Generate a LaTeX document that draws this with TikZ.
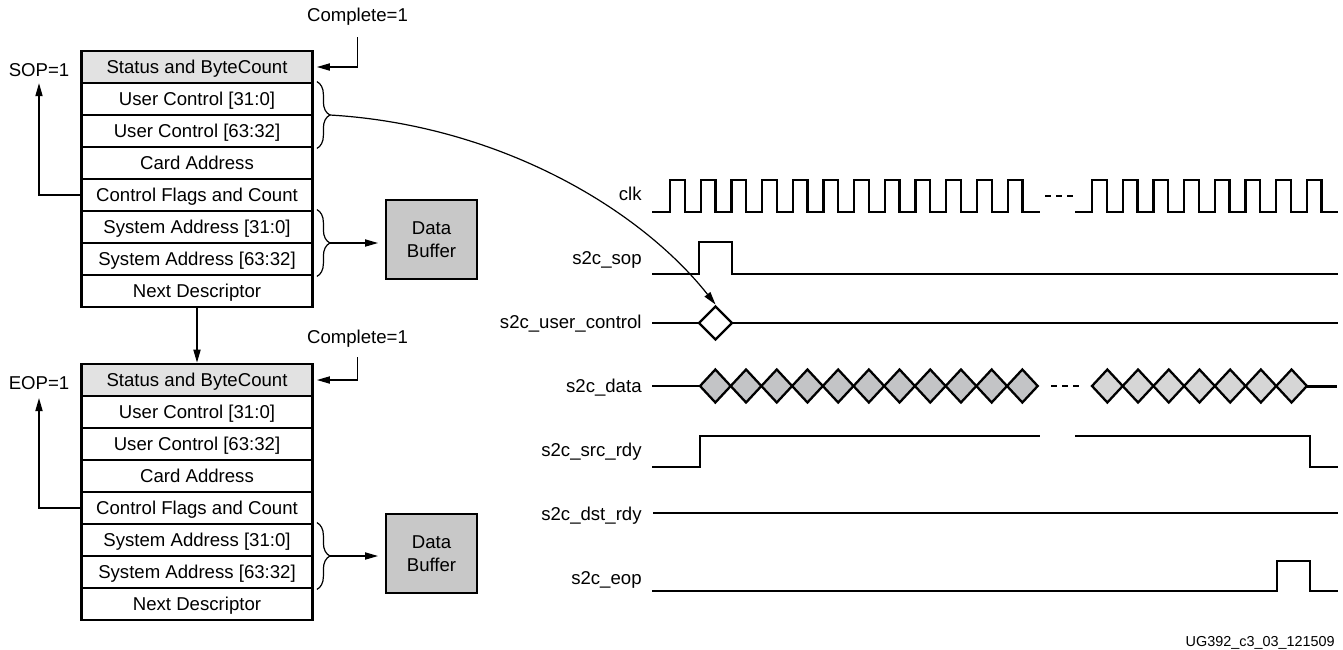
\documentclass[tikz,border=0pt]{standalone}
\usepackage{fontspec}
\setmainfont{Liberation Sans}
\usetikzlibrary{arrows.meta,decorations.pathreplacing}
\definecolor{hdrgray}{RGB}{226,226,226}
\definecolor{bufgray}{RGB}{200,200,200}
\definecolor{datdark}{RGB}{195,196,198}
\definecolor{datlight}{RGB}{214,214,214}

\begin{document}
\begin{tikzpicture}[x=0.5pt,y=-0.5pt,font=\fontsize{9.3}{11.2}\selectfont,
  >={Triangle[length=6.5pt,width=3.6pt]},
  row/.style={draw,line width=1.4pt,minimum width=115.5pt,minimum height=16pt,inner sep=0pt,text height=6.7pt,text depth=0pt},
  buffer/.style={draw,line width=1.4pt,fill=bufgray,minimum width=45.5pt,minimum height=39.5pt,align=center,inner sep=0pt},
  flag/.style={inner sep=2pt,text height=6.7pt,text depth=0pt},
  link/.style={line width=0.6pt},
  brc/.style={line width=0.6pt,decorate,decoration={brace,amplitude=6.5pt}},
  wave/.style={line width=1.15pt},
  sig/.style={anchor=base east,inner sep=0pt}]
\useasboundingbox (0,0) rectangle (1343,649);

% first descriptor (SOP)
\begin{scope}
\node[row,fill=hdrgray] (a1) at (197,67) {Status and ByteCount};
\foreach \i/\t in {2/User Control [31:0],3/User Control [63:32],4/Card Address,5/Control Flags and Count,6/System Address [31:0],7/System Address [63:32],8/Next Descriptor}
  \node[row] (a\i) at (197,{35+32*\i}) {\t};
\node[flag] (sop) at (39,69.5) {SOP=1};
\draw[link,->,shorten >=1.3pt] (a5.west) -| (sop.south);
\node[flag] (cpa) at (357.5,15) {Complete=1};
\draw[link,->,shorten <=5.6pt,shorten >=1.5pt] (cpa.south) |- (a1.east);
\draw[brc] ([xshift=1.5pt]a2.north east) -- ([xshift=1.5pt]a3.south east) coordinate[midway,xshift=6.5pt] (ucb);
\draw[brc] ([xshift=1.5pt]a6.north east) -- ([xshift=1.5pt]a7.south east) coordinate[midway,xshift=6.5pt] (sab);
\node[buffer] (bufa) at (431.5,239.5) {Data\\Buffer};
\draw[link,->,shorten >=3.3pt] (sab) -- (sab -| bufa.west);
\end{scope}

% second descriptor (EOP)
\begin{scope}[shift={(0,313)}]
\node[row,fill=hdrgray] (b1) at (197,67) {Status and ByteCount};
\foreach \i/\t in {2/User Control [31:0],3/User Control [63:32],4/Card Address,5/Control Flags and Count,6/System Address [31:0],7/System Address [63:32],8/Next Descriptor}
  \node[row] (b\i) at (197,{35+32*\i}) {\t};
\node[flag] (eop) at (39,70) {EOP=1};
\draw[link,->,shorten >=2pt] (b5.west) -| (eop.south);
\node[flag] (cpb) at (357.5,23.7) {Complete=1};
\draw[link,->,shorten <=4.8pt,shorten >=1.5pt] (cpb.south) |- (b1.east);
\draw[brc] ([xshift=1.5pt]b6.north east) -- ([xshift=1.5pt]b7.south east) coordinate[midway,xshift=6.5pt] (sbb);
\node[buffer] (bufb) at (431.5,240.5) {Data\\Buffer};
\draw[link,->,shorten >=3.3pt] (sbb) -- (sbb -| bufb.west);
\end{scope}

\draw[link,->] (a8.south) -- (b1.north);

% timing
\node[sig] (lclk) at (642,200) {clk};
\node[sig] (lsop) at (642,264) {s2c\_sop};
\node[sig] (luc) at (642,328) {s2c\_user\_control};
\node[sig] (ldat) at (642,392) {s2c\_data};
\node[sig] (lsrc) at (642,456) {s2c\_src\_rdy};
\node[sig] (ldst) at (642,520) {s2c\_dst\_rdy};
\node[sig] (leop) at (642,584) {s2c\_eop};

% clk
\draw[wave] (652,212) foreach \k in {0,...,11} { -- ({670+30.7*\k},212) -- ++(0,-32) -- ++(14.7,0) -- ++(0,32) } -- (1040,212);
\draw[wave,dash pattern=on 3pt off 2.5pt] (1045,196) -- (1074,196);
\draw[wave] (1075,212) foreach \k in {0,...,7} { -- ({1092+30.7*\k},212) -- ++(0,-32) -- ++(14.7,0) -- ++(0,32) } -- (1338,212);

% sop
\draw[wave] (652,274) -- (699,274) -- (699,242) -- (732,242) -- (732,274) -- (1338,274);

% user control
\draw[wave] (652,323) -- (699,323);
\draw[wave,fill=white] (699,323) -- (715.5,306.5) -- (732,323) -- (715.5,339.5) -- cycle;
\draw[wave] (732,323) -- (1338,323);
\coordinate (ucd) at (715.5,304.5);
\draw[link,->] (ucb) .. controls +(170,10) and +(-75,-95) .. (ucd);

% data
\draw[wave] (652,386) -- (700,386);
\foreach \k in {0,...,10}
  \draw[wave,fill=datdark] ({700+30.7*\k},386) -- ++(15.35,-16.5) -- ++(15.35,16.5) -- ++(-15.35,16.5) -- cycle;
\draw[wave,dash pattern=on 3pt off 2.5pt] (1051,386) -- (1080,386);
\foreach \k in {0,...,6}
  \draw[wave,fill=datlight] ({1092+30.7*\k},386) -- ++(15.35,-16.5) -- ++(15.35,16.5) -- ++(-15.35,16.5) -- cycle;
\draw[wave,line width=1.5pt] (1307,386) -- (1337,386);

% src_rdy
\draw[wave] (652,467) -- (700,467) -- (700,436) -- (1040,436);
\draw[wave] (1075,436) -- (1310,436) -- (1310,467) -- (1338,467);

% dst_rdy
\draw[wave] (653,513) -- (1338,513);

% eop
\draw[wave] (652,591) -- (1277,591) -- (1277,561) -- (1310,561) -- (1310,591) -- (1338,591);

\node[anchor=base east,inner sep=0pt,font=\fontsize{7.2}{8}\selectfont] (fig) at (1335,646) {UG392\_c3\_03\_121509};
\end{tikzpicture}
\end{document}
